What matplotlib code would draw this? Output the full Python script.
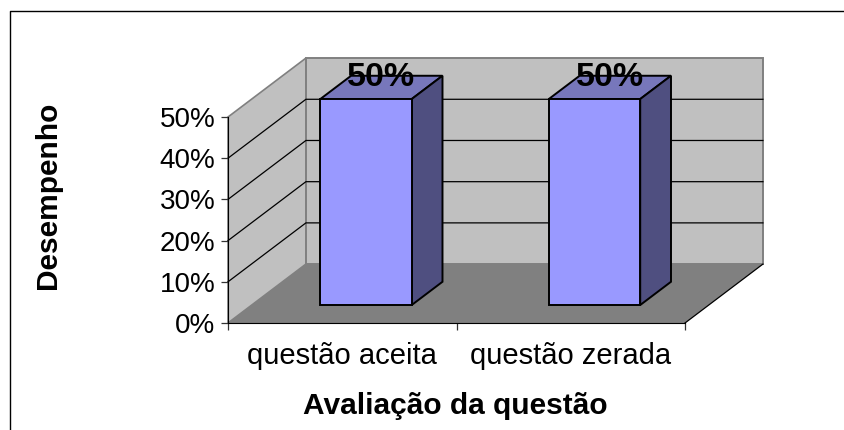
import matplotlib
matplotlib.use("Agg")
import matplotlib.pyplot as plt
from matplotlib.lines import Line2D
from matplotlib.patches import Polygon

plt.rcParams['font.family'] = ['Liberation Sans', 'DejaVu Sans']

categories = ["questão aceita", "questão zerada"]
values = [50, 50]
y_ticks = [0, 10, 20, 30, 40, 50]
x_label = "Avaliação da questão"
y_label = "Desempenho"

# how far the depth of the 3d box moves things, in data units
depth_x = 0.341
depth_y = 14.3
bar_half = 0.2
bar_d0 = 0.305
bar_d1 = 0.70


def proj(x, y, d):
    return (x + d * depth_x, y + d * depth_y)


def face(ax, pts, color, edge, lw=1.4, z=2):
    ax.add_patch(Polygon(pts, closed=True, facecolor=color, edgecolor=edge,
                         linewidth=lw, joinstyle='miter', zorder=z))


fig = plt.figure(figsize=(8.45, 4.3), dpi=100)
ax = fig.add_axes([0, 0, 1, 1])
ax.set_xlim(-228 / 228.5, 617 / 228.5)
ax.set_ylim(-107 / 4.12, 323 / 4.12)
ax.patch.set_alpha(0)

top = y_ticks[-1]
xmax = len(categories)

# walls and floor
face(ax, [proj(0, 0, 0), proj(0, 0, 1), proj(0, top, 1), proj(0, top, 0)], '#c0c0c0', '#808080', 1.2, 1)
face(ax, [proj(0, 0, 1), proj(xmax, 0, 1), proj(xmax, top, 1), proj(0, top, 1)], '#c0c0c0', '#808080', 1.4, 1)
face(ax, [proj(0, 0, 0), proj(xmax, 0, 0), proj(xmax, 0, 1), proj(0, 0, 1)], '#808080', 'none', 0, 1.2)

# gridlines go across the side wall and the back wall
for t in y_ticks[1:-1]:
    a, b, c = proj(0, t, 0), proj(0, t, 1), proj(xmax, t, 1)
    ax.plot([a[0], b[0], c[0]], [a[1], b[1], c[1]], color='black', lw=0.9, zorder=1.5)
a, b = proj(xmax, 0, 0), proj(xmax, 0, 1)
ax.plot([a[0], b[0]], [a[1], b[1]], color='black', lw=0.9, zorder=1.5)

# bars
for i, v in enumerate(values):
    x0 = i + 0.5 - bar_half
    x1 = i + 0.5 + bar_half
    face(ax, [proj(x0, v, bar_d0), proj(x1, v, bar_d0), proj(x1, v, bar_d1), proj(x0, v, bar_d1)], '#7777bb', 'black')
    face(ax, [proj(x1, 0, bar_d0), proj(x1, 0, bar_d1), proj(x1, v, bar_d1), proj(x1, v, bar_d0)], '#4f4f80', 'black')
    face(ax, [proj(x0, 0, bar_d0), proj(x1, 0, bar_d0), proj(x1, v, bar_d0), proj(x0, v, bar_d0)], '#9999ff', 'black')
    lx = proj(i + 0.5, v, 0.5)[0]
    ly = proj(i + 0.5, v, bar_d1)[1]
    ax.annotate(f"{v}%", (lx, ly), xytext=(0, -1.5), textcoords='offset points', ha='center', va='center',
                fontsize=24.5, fontweight='bold', color='black', zorder=5)

# axes lines and ticks
for s in ['top', 'right']:
    ax.spines[s].set_visible(False)
ax.spines['left'].set_position(('data', 0))
ax.spines['left'].set_bounds(0, top)
ax.spines['bottom'].set_position(('data', 0))
ax.spines['bottom'].set_bounds(0, xmax)
ax.spines['left'].set_zorder(3)
ax.spines['bottom'].set_zorder(3)
ax.set_yticks(y_ticks)
ax.set_yticklabels([f"{t}%" for t in y_ticks], fontsize=20)
ax.set_xticks(range(xmax + 1))
ax.set_xticklabels([])
ax.set_xticks([i + 0.5 for i in range(xmax)], minor=True)
ax.set_xticklabels(categories, minor=True, fontsize=21)
ax.tick_params(axis='x', which='minor', length=0, pad=14)
ax.tick_params(axis='both', which='major', length=5, width=0.9, color='#333333')
ax.tick_params(axis='y', pad=4)

ax.set_xlabel(x_label, fontsize=21.5, fontweight='bold')
ax.xaxis.set_label_coords(455 / 845, 1 - 392 / 430)
ax.set_ylabel(y_label, fontsize=21.5, fontweight='bold')
ax.yaxis.set_label_coords(62 / 845, 1 - 195 / 430)

# outer frame, cut by the image edge
fig.add_artist(Line2D([10.5 / 845, 10.5 / 845, 1], [0, 1 - 10.5 / 430, 1 - 10.5 / 430], color='black', lw=1))

fig.savefig("out.png", dpi=100)
